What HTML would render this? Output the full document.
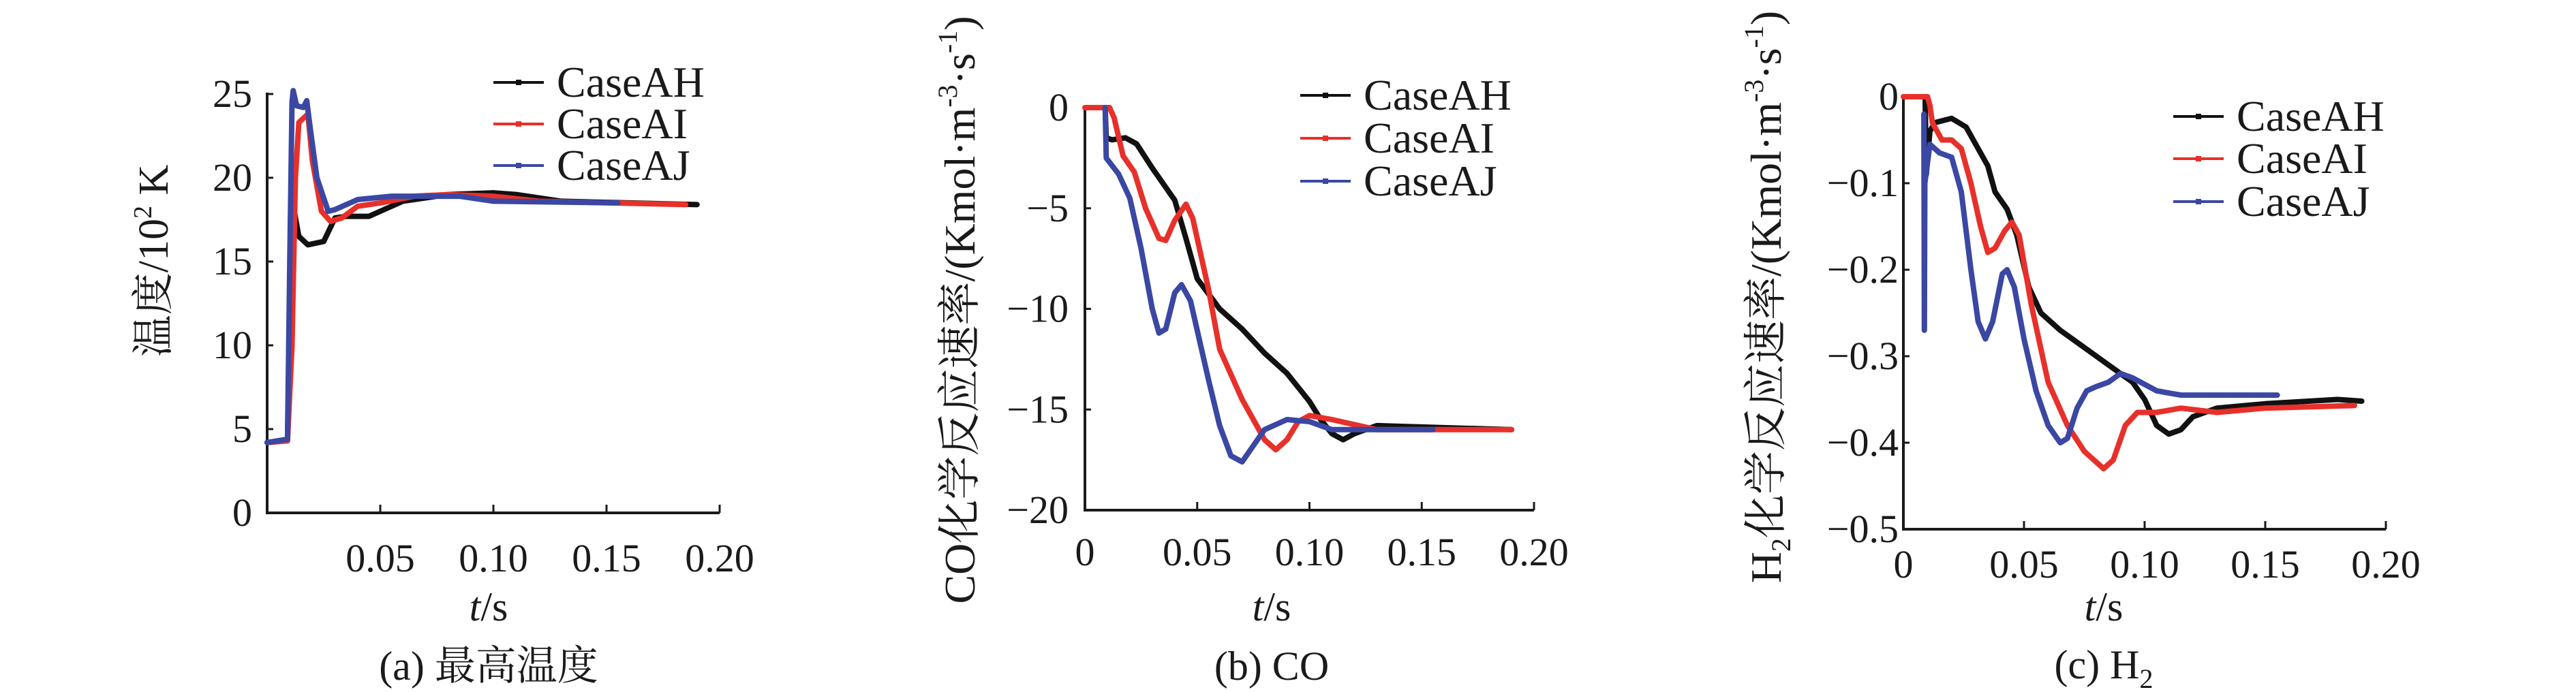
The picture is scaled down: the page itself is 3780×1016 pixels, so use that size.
<!DOCTYPE html>
<html><head><meta charset="utf-8"><style>
html,body{margin:0;padding:0;background:#fff;}
svg{display:block;font-family:"Liberation Serif","Noto Serif CJK SC",serif;}
</style></head><body>
<svg id="fig" width="3780" height="1016" viewBox="0 0 3780 1016" xmlns="http://www.w3.org/2000/svg">
<rect width="3780" height="1016" fill="#fff"/>
</svg>
<script>
const seriesNames = ["CaseAH","CaseAI","CaseAJ"];
const seriesColors = ["#111111","#e8302a","#3a47a3"];
const xTicks = [0,0.05,0.10,0.15,0.20];
const xTickLabels = ["0","0.05","0.10","0.15","0.20"];
const tempTicks = [0,5,10,15,20,25];
const coTicks = [0,-5,-10,-15,-20];
const h2Ticks = [0,-0.1,-0.2,-0.3,-0.4,-0.5];
const h2TickLabels = ["0","\u22120.1","\u22120.2","\u22120.3","\u22120.4","\u22120.5"];
const coTickLabels = ["0","\u22125","\u221210","\u221215","\u221220"];

const tempAH_t=[0,0.009,0.010,0.011,0.012,0.014,0.018,0.025,0.03,0.035,0.045,0.06,0.08,0.10,0.11,0.13,0.19];
const tempAH_v=[4.2,4.3,12,19.5,18,16.5,16,16.2,17.6,17.7,17.7,18.6,19.0,19.1,19,18.6,18.4];
const tempAI_t=[0,0.009,0.011,0.0125,0.014,0.018,0.02,0.024,0.028,0.033,0.04,0.05,0.065,0.08,0.1,0.12,0.185];
const tempAI_v=[4.2,4.3,10,20,23.3,23.8,21,18,17.4,17.6,18.3,18.5,18.9,19.0,18.9,18.6,18.4];
const tempAJ_t=[0,0.009,0.010,0.011,0.0115,0.013,0.016,0.0175,0.019,0.022,0.027,0.03,0.04,0.055,0.075,0.085,0.1,0.155];
const tempAJ_v=[4.2,4.4,15,24.5,25.2,24.3,24.2,24.6,23,20,18,18.1,18.7,18.9,18.9,18.9,18.6,18.5];

const coAH_t=[0.009,0.0095,0.012,0.018,0.023,0.03,0.035,0.04,0.045,0.05,0.06,0.07,0.08,0.09,0.1,0.105,0.11,0.115,0.12,0.13,0.19];
const coAH_v=[0,-1.5,-1.6,-1.5,-1.8,-3,-3.8,-4.6,-6.5,-8.5,-10,-11,-12.2,-13.2,-14.6,-15.5,-16.2,-16.5,-16.2,-15.8,-16];
const coAI_t=[0,0.009,0.011,0.013,0.017,0.022,0.027,0.033,0.036,0.04,0.045,0.048,0.055,0.06,0.07,0.075,0.08,0.085,0.09,0.095,0.1,0.11,0.13,0.19];
const coAI_v=[0,0,0,-0.5,-2.4,-3.2,-5,-6.5,-6.6,-5.6,-4.8,-5.5,-9,-12,-14.5,-15.5,-16.5,-17,-16.5,-15.6,-15.3,-15.5,-16,-16];
const coAJ_t=[0.009,0.0095,0.015,0.02,0.025,0.03,0.033,0.036,0.04,0.043,0.047,0.055,0.06,0.065,0.07,0.075,0.08,0.09,0.1,0.11,0.155];
const coAJ_v=[0,-2.5,-3.3,-4.5,-7,-10,-11.2,-11,-9.2,-8.8,-9.6,-13.5,-15.8,-17.3,-17.6,-16.8,-16,-15.5,-15.6,-16,-16];

const h2AH_t=[0.009,0.0095,0.011,0.013,0.02,0.026,0.03,0.035,0.038,0.043,0.047,0.052,0.057,0.065,0.075,0.085,0.095,0.1,0.105,0.11,0.115,0.12,0.13,0.15,0.18,0.19];
const h2AH_v=[0,-0.09,-0.04,-0.03,-0.025,-0.035,-0.055,-0.08,-0.11,-0.13,-0.16,-0.22,-0.25,-0.27,-0.29,-0.31,-0.33,-0.35,-0.38,-0.39,-0.385,-0.37,-0.36,-0.355,-0.35,-0.352];
const h2AI_t=[0,0.01,0.011,0.012,0.016,0.02,0.024,0.028,0.032,0.035,0.038,0.042,0.045,0.048,0.053,0.06,0.068,0.075,0.083,0.087,0.092,0.097,0.105,0.115,0.13,0.15,0.187];
const h2AI_v=[0,0,-0.01,-0.03,-0.05,-0.05,-0.06,-0.1,-0.15,-0.18,-0.175,-0.155,-0.145,-0.16,-0.24,-0.33,-0.38,-0.41,-0.43,-0.42,-0.38,-0.365,-0.365,-0.36,-0.365,-0.36,-0.357];
const h2AJ_t=[0.0085,0.0087,0.0089,0.011,0.015,0.02,0.024,0.028,0.031,0.034,0.037,0.041,0.043,0.046,0.05,0.055,0.06,0.065,0.068,0.072,0.076,0.08,0.085,0.09,0.095,0.105,0.115,0.155];
const h2AJ_v=[-0.02,-0.27,-0.1,-0.055,-0.065,-0.07,-0.11,-0.2,-0.26,-0.28,-0.26,-0.205,-0.2,-0.22,-0.28,-0.34,-0.38,-0.4,-0.395,-0.36,-0.34,-0.335,-0.33,-0.32,-0.325,-0.34,-0.345,-0.345];

const NS="http://www.w3.org/2000/svg";
const svg=document.getElementById('fig');
function mk(tag,attrs,parent){const e=document.createElementNS(NS,tag);for(const k in attrs)e.setAttribute(k,attrs[k]);(parent||svg).appendChild(e);return e;}

const panels=[
 {id:'temp',x0:392,x1:1056,y0:753,yTop:138,vMin:0,vMax:25,ticks:tempTicks,labels:tempTicks.map(String),showX0:false,
  lblRight:370,xlblBase:839,tsX:717,capBase:998,caption:'(a) 最高温度',
  legX:724,legY:[121,182,243],
  series:[[tempAH_t,tempAH_v],[tempAI_t,tempAI_v],[tempAJ_t,tempAJ_v]]},
 {id:'co',x0:1592,x1:2251,y0:749,yTop:158,vMin:-20,vMax:0,ticks:coTicks,labels:coTickLabels,showX0:true,
  lblRight:1568,xlblBase:830,tsX:1866,capBase:998,caption:'(b) CO',
  legX:1908,legY:[140,203,266],
  series:[[coAH_t,coAH_v],[coAI_t,coAI_v],[coAJ_t,coAJ_v]]},
 {id:'h2',x0:2793,x1:3501,y0:777,yTop:142,vMin:-0.5,vMax:0,ticks:h2Ticks,labels:h2TickLabels,showX0:true,
  lblRight:2786,xlblBase:848,tsX:3087,capBase:996,caption:'(c) H',
  legX:3189,legY:[171,233,296],
  series:[[h2AH_t,h2AH_v],[h2AI_t,h2AI_v],[h2AJ_t,h2AJ_v]]}
];

panels.forEach(p=>{
  const g=mk('g',{});
  
  
  const sx=t=>p.x0+(t-0)/(0.2)*(p.x1-p.x0);
  const sy=v=>p.y0-(v-p.vMin)/(p.vMax-p.vMin)*(p.y0-p.yTop);
  const yAxisTop=sy(p.vMax);
  const ax=mk('path',{d:`M${p.x0},${yAxisTop-2}V${p.y0}H${p.x1}`,fill:'none',stroke:'#1a1a1a','stroke-width':4},g);
  
  
  p.ticks.forEach((v,i)=>{
    const y=sy(v);
    if(v!==p.vMin) mk('line',{x1:p.x0,x2:p.x0+9,y1:y,y2:y,stroke:'#1a1a1a','stroke-width':3},g);
    const t=mk('text',{x:p.lblRight,y:y+19,'font-size':58,'text-anchor':'end',fill:'#1a1a1a'},g);
    t.textContent=p.labels[i];
    
    
  });
  xTicks.forEach((tv,i)=>{
    const x=sx(tv);
    if(i>0) mk('line',{x1:x,x2:x,y1:p.y0,y2:p.y0-12,stroke:'#1a1a1a','stroke-width':3},g);
    if(i===0&&!p.showX0) return;
    const t=mk('text',{x:x,y:p.xlblBase,'font-size':58,'text-anchor':'middle',fill:'#1a1a1a'},g);
    t.textContent=xTickLabels[i];
    
    
  });
  const xt=mk('text',{x:p.tsX,y:911,'font-size':60,'text-anchor':'middle',fill:'#1a1a1a'},g);
  xt.innerHTML='<tspan font-style="italic">t</tspan>/s';
  
  
  const cap=mk('text',{x:p.tsX,y:p.capBase,'font-size':60,'text-anchor':'middle',fill:'#1a1a1a'},g);
  cap.textContent=p.caption;
  if(p.id==='h2'){const s=mk('tspan',{'font-size':40,dy:14},cap);s.textContent='2';}
  
  
  p.series.forEach((s,k)=>{
    const [ts,vs]=s;
    let d='';
    ts.forEach((t,i)=>{d+=(i?'L':'M')+sx(t).toFixed(1)+','+sy(vs[i]).toFixed(1);});
    const pl=mk('path',{d:d,fill:'none',stroke:seriesColors[k],'stroke-width':8,'stroke-linejoin':'round','stroke-linecap':'round'},g);
    
    
    const lg=mk('g',{},g);
    
    
    const ly=p.legY[k];
    mk('line',{x1:p.legX,x2:p.legX+74,y1:ly,y2:ly,stroke:seriesColors[k],'stroke-width':4},lg);
    mk('rect',{x:p.legX+33,y:ly-4,width:8,height:8,fill:seriesColors[k]},lg);
    const lt=mk('text',{x:p.legX+93,y:ly+21,'font-size':64,fill:'#1a1a1a'},lg);
    lt.textContent=seriesNames[k];
  });
});

function ylabel(name,cx,cy,html,fs){
  const t=mk('text',{x:0,y:0,'font-size':fs,'text-anchor':'middle',fill:'#1a1a1a',transform:`translate(${cx},${cy}) rotate(-90)`});
  t.innerHTML=html;
  
  
}
ylabel('temp-y-axis-title',246,383,'温度/10<tspan font-size="38" dy="-24">2</tspan><tspan dy="24"> K</tspan>',62);
ylabel('co-y-axis-title',1430,455,'CO化学反应速率/(Kmol·m<tspan font-size="40" dy="-26">-3</tspan><tspan dy="26">·s</tspan><tspan font-size="40" dy="-26">-1</tspan><tspan dy="26">)</tspan>',64);
ylabel('h2-y-axis-title',2613,436,'H<tspan font-size="40" dy="14">2</tspan><tspan dy="-14">化学反应速率/(Kmol·m</tspan><tspan font-size="40" dy="-26">-3</tspan><tspan dy="26">·s</tspan><tspan font-size="40" dy="-26">-1</tspan><tspan dy="26">)</tspan>',64);
</script>
</body></html>
